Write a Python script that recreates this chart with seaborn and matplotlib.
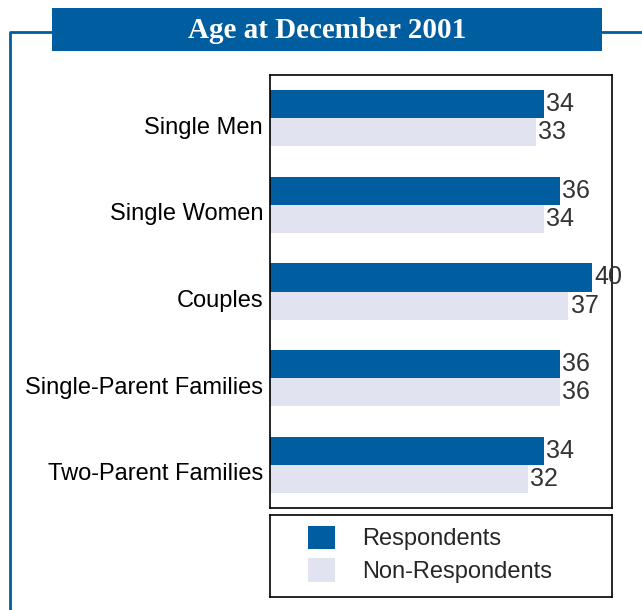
import numpy as np
import pandas as pd
import matplotlib
matplotlib.use("Agg")
import matplotlib.pyplot as plt
import matplotlib.transforms as mtransforms
from matplotlib.patches import Rectangle
from matplotlib.lines import Line2D
import seaborn as sns

groups = ["Single Men", "Single Women", "Couples", "Single-Parent Families", "Two-Parent Families"]
respondents = [34, 36, 40, 36, 34]
non_respondents = [33, 34, 37, 36, 32]
series = ["Respondents", "Non-Respondents"]
title = "Age at December 2001"

blue = "#005DA0"
light = "#E1E3F0"

df = pd.DataFrame({
    "group": groups * 2,
    "age": respondents + non_respondents,
    "status": [series[0]] * len(groups) + [series[1]] * len(groups),
})

sns.set_style("white")
plt.rcParams["font.family"] = ["Liberation Sans", "DejaVu Sans"]

fig = plt.figure(figsize=(6.42, 6.10), dpi=100)
ax = fig.add_axes([270 / 642, 1 - 508 / 610, 342 / 642, 433 / 610])

sns.barplot(data=df, x="age", y="group", hue="status", orient="h",
            palette=[blue, light], saturation=1, width=0.65, linewidth=0, ax=ax)

for c in ax.containers:
    ax.bar_label(c, padding=2, fontsize=18, color="#333333")

ax.set_xlim(0, 42.5)
ax.set_xlabel("")
ax.set_ylabel("")
ax.set_xticks([])
ax.tick_params(axis="y", length=0, pad=5, labelsize=17, labelcolor="black")
# labels sit a little below the pair centre in the original
shift = mtransforms.ScaledTranslation(0, -7 / 100, fig.dpi_scale_trans)
for lbl in ax.get_yticklabels():
    lbl.set_transform(lbl.get_transform() + shift)
for s in ax.spines.values():
    s.set_visible(True)
    s.set_color("black")
    s.set_linewidth(1.2)

handles, labels = ax.get_legend_handles_labels()
ax.get_legend().remove()

lax = fig.add_axes([270 / 642, 1 - 597 / 610, 342 / 642, 82 / 610])
lax.set_xticks([])
lax.set_yticks([])
for s in lax.spines.values():
    s.set_color("black")
    s.set_linewidth(1.2)
lax.legend(handles, labels, loc="center left", bbox_to_anchor=(0.048, 0.52),
           frameon=False, fontsize=17, handlelength=1.15, handleheight=1.15,
           handletextpad=1.15, labelspacing=0.33)

# banner and frame
fig.add_artist(Line2D([10 / 642, 10 / 642, 52 / 642], [0, 1 - 32 / 610, 1 - 32 / 610],
                      color=blue, lw=2, transform=fig.transFigure))
fig.add_artist(Line2D([602 / 642, 1], [1 - 32 / 610, 1 - 32 / 610],
                      color=blue, lw=2, transform=fig.transFigure))
fig.add_artist(Rectangle((52 / 642, 1 - 51 / 610), 550 / 642, 43 / 610,
                         facecolor=blue, edgecolor="none", transform=fig.transFigure))
fig.text(327 / 642, 1 - 30 / 610, title, ha="center", va="center", color="white",
         fontsize=21, fontweight="bold", family=["Liberation Serif", "DejaVu Serif"])

fig.savefig("out.png", dpi=100)
